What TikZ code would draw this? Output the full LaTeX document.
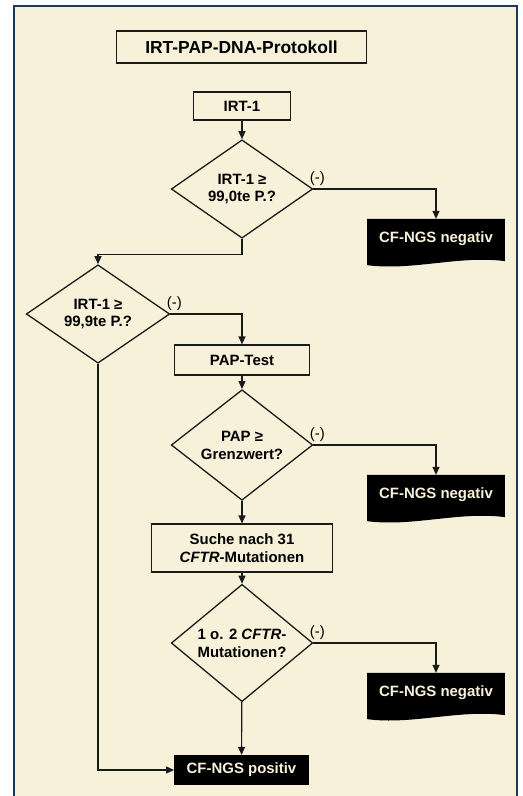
\documentclass[tikz,border=0pt]{standalone}
\usepackage{fontspec}
\setmainfont{Liberation Sans}
\usepackage{tikz}
\usetikzlibrary{arrows.meta,positioning,calc,shapes.geometric}
\definecolor{bgc}{HTML}{F8F1DA}
\definecolor{framec}{HTML}{1D3858}
\definecolor{linec}{HTML}{1A1A1A}
\tikzset{
  >={Triangle[length=8pt,width=7pt]},
  box/.style={draw=linec,line width=1.3pt,inner sep=0pt,align=center,font=\fontsize{15}{18}\selectfont\bfseries},
  decide/.style={diamond,draw=linec,line width=1.3pt,inner sep=0pt,minimum width=142,minimum height=92,align=center,font=\fontsize{15}{18}\selectfont\bfseries},
  endbox/.style={fill=black,text=bgc,inner sep=0pt,align=center,font=\fontsize{15}{18}\selectfont\bfseries},
  negbox/.style={text=bgc,inner sep=0pt,minimum width=138,minimum height=40,font=\fontsize{15}{18}\selectfont\bfseries},
  minus/.style={inner sep=0pt,font=\fontsize{15}{18}\selectfont},
  arr/.style={->,draw=linec,line width=1.2pt},
}
% schwarzer Dokumentkasten mit welliger Unterkante
\newcommand{\docfill}[1]{%
  \fill[black] (#1.north west) -- (#1.north east) -- ($(#1.south east)+(0,2)$)
    .. controls ($(#1.south east)+(-45,-4)$) and ($(#1.south west)+(45,12)$) .. ($(#1.south west)+(0,6)$) -- cycle;}

\begin{document}
\begin{tikzpicture}[x=1bp,y=-1bp]
  \useasboundingbox (0,0) rectangle (523,796);
  \fill[bgc] (14,6) rectangle (517,796);
  \draw[framec,line width=2.6] (14,800) -- (14,6) -- (517,6) -- (517,800);

  \node[box,minimum width=251,minimum height=32,font=\fontsize{17.5}{21}\selectfont\bfseries] (title) at (241.5,47) {IRT-PAP-DNA-Protokoll};
  \node[box,minimum width=98,minimum height=28] (irt) at (242,106) {IRT-1};
  \node[decide] (d1) at (242,189) {IRT-1 ≥\\99,0te P.?};
  \node[decide,minimum width=144] (d2) at (98,314) {IRT-1 ≥\\99,9te P.?};
  \node[box,minimum width=136,minimum height=30] (pap) at (242,360) {PAP-Test};
  \node[decide] (d3) at (242,445) {PAP ≥\\Grenzwert?};
  \node[box,minimum width=182,minimum height=48] (suche) at (242,548) {Suche nach 31\\\textit{CFTR}-Mutationen};
  \node[decide] (d4) at (242,643) {1 o. 2 \textit{CFTR}-\\Mutationen?};
  \node[endbox,minimum width=135,minimum height=30] (pos) at (241.5,770) {CF-NGS positiv};

  \foreach \n/\y in {neg1/239,neg2/495,neg3/693} {
    \node[negbox] (\n) at (436,\y) {};
    \docfill{\n}
    \node[negbox] (t-\n) at (\n) {CF-NGS negativ};}

  \draw[arr] (irt) -- (d1);
  \draw[arr] (d1.east) -| (neg1.north);
  \draw[arr] (d1.south) -- ++(0,16) -| (d2.north);
  \draw[arr] (d2.east) -| (pap.north);
  \draw[arr] (pap) -- (d3);
  \draw[arr] (d3.east) -| (neg2.north);
  \draw[arr] (d3) -- (suche);
  \draw[arr] (suche) -- (d4);
  \draw[arr] (d4.east) -| (neg3.north);
  \draw[arr] (d4) -- (pos);
  \draw[arr] (d2.south) |- (pos.west);

  \foreach \d in {d1,d2,d3,d4} \node[minus] (m-\d) at ($(\d.east)+(4,-10)$) {(-)};
\end{tikzpicture}
\end{document}
